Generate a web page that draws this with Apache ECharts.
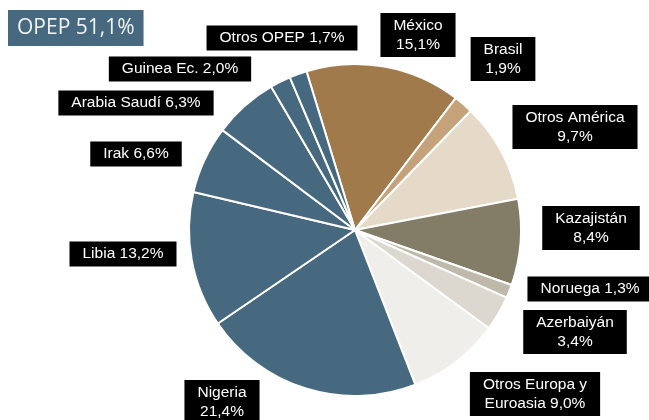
<!DOCTYPE html>
<html>
<head>
<meta charset="utf-8">
<script src="https://cdn.jsdelivr.net/npm/echarts@6/dist/echarts.min.js"></script>
<style>
  html, body { margin: 0; padding: 0; background: #fff; }
  #chart { width: 649px; height: 420px; }
</style>
</head>
<body>
<div id="chart"></div>
<script>
// datos: origen del crudo importado (%), sentido horario desde México
const names = ['México', 'Brasil', 'Otros América', 'Kazajistán', 'Noruega', 'Azerbaiyán',
  'Otros Europa y\nEuroasia', 'Nigeria', 'Libia', 'Irak', 'Arabia Saudí', 'Guinea Ec.', 'Otros OPEP'];
const values = [15.1, 1.9, 9.7, 8.4, 1.3, 3.4, 9.0, 21.4, 13.2, 6.6, 6.3, 2.0, 1.7];
const separators = ['\n', '\n', '\n', '\n', ' ', '\n', ' ', '\n', ' ', ' ', ' ', ' ', ' '];
const colors = ['#a07a4b', '#c5a27a', '#e5d9c8', '#837d68', '#bfb9ab', '#dcd8cf', '#efeeea',
  '#46697f', '#46697f', '#46697f', '#46697f', '#46697f', '#46697f'];
const titleText = 'OPEP 51,1%';

// centro de cada etiqueta (px)
const labelPos = [[418, 35], [503, 59], [575, 127], [591, 228], [590, 289], [575, 332],
  [535, 394], [222, 402], [123, 254], [136, 154], [136, 103], [180, 69], [282, 38]];

const myChart = echarts.init(document.getElementById('chart'));

const option = {
  animation: false,
  title: {
    text: titleText,
    left: 8,
    top: 10,
    backgroundColor: '#46697f',
    padding: [8, 9, 7, 9],
    textStyle: { color: '#f2f2f2', fontSize: 21, fontWeight: 'normal', fontFamily: 'Open Sans' }
  },
  series: [{
    type: 'pie',
    center: [355, 230],
    radius: 166,
    startAngle: 107,
    clockwise: true,
    avoidLabelOverlap: false,
    itemStyle: { borderColor: '#fff', borderWidth: 2 },
    label: {
      show: true,
      position: 'outside',
      backgroundColor: '#000',
      color: '#fff',
      fontFamily: 'Liberation Sans',
      fontSize: 15.5,
      lineHeight: 19,
      padding: [3, 13, 3, 13],
      align: 'center',
      formatter: p => p.name + separators[p.dataIndex] + values[p.dataIndex].toFixed(1).replace('.', ',') + '%'
    },
    labelLine: { show: false },
    labelLayout: params => ({
      x: labelPos[params.dataIndex][0],
      y: labelPos[params.dataIndex][1],
      align: 'center',
      verticalAlign: 'middle'
    }),
    data: names.map((n, i) => ({ name: n, value: values[i], itemStyle: { color: colors[i] } }))
  }]
};
myChart.setOption(option);
</script>
</body>
</html>
